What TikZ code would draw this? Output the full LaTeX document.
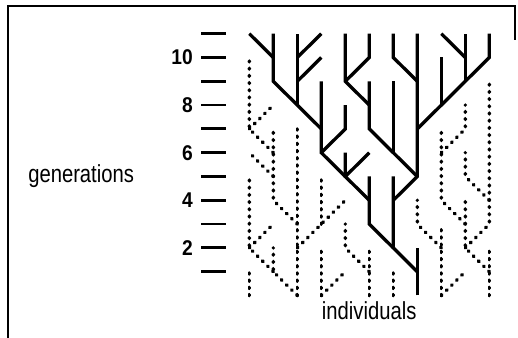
\documentclass[tikz,border=0pt]{standalone}
\usepackage{fontspec}
\setmainfont{Liberation Sans}
\usepackage{graphicx}

\begin{document}
\begin{tikzpicture}[x=0.75pt,y=-0.75pt,
lineage/.style={line width=2.5pt},
lost/.style={line width=2.7pt,line cap=round,dash pattern=on 0.6pt off 4.8pt},
gentick/.style={line width=2.1pt},
frame/.style={line width=1.5pt},
digit/.style={inner sep=0pt,anchor=east,font=\fontsize{16}{18}\selectfont\bfseries},
caption/.style={inner sep=0pt,anchor=base west,font=\fontsize{18.5}{20}\selectfont}
]
\useasboundingbox (0,0) rectangle (518,338);

% frame
\draw[frame] (8.3,338) -- (8.3,6) -- (515,6) -- (515,40);

% individuals: column c, generation g
\foreach \c in {0,...,10}
  \foreach \g in {0,...,11}
    \coordinate (p\c-\g) at ({249.3+24*\c},{295.5-23.8*\g});

% generation scale
\foreach \g in {1,...,11}
  \draw[gentick] (201,{295.5-23.8*\g}) -- +(25,0);
\foreach \g in {2,4,...,10}
  \node[digit] (gen\g) at (193,{295.5-23.8*\g}) {\scalebox{0.9}[1]{\g}};

\node[caption] (gens) at (28,182.7) {\scalebox{0.82}[1]{generations}};
\node[caption] (indiv) at (321.7,320) {\scalebox{0.82}[1]{individuals}};

% descendants of one ancestor
\draw[lineage] (p7-0) -- (p7-1) -- (p7-2);
\draw[lineage] (p7-1) -- (p6-2) -- (p6-5);
\draw[lineage] (p6-2) -- (p5-3) -- (p5-5);
\draw[lineage] (p5-4) -- (p4-5) -- (p4-6);
\draw[lineage] (p4-5) -- (p3-6) -- (p3-9);
\draw[lineage] (p4-5) -- (p5-6);
\draw[lineage] (p6-4) -- (p7-5) -- (p7-11);
\draw[lineage] (p7-5) -- (p6-6) -- (p5-7) -- (p5-9);
\draw[lineage] (p6-6) -- (p6-9);
\draw[lineage] (p3-6) -- (p4-7) -- (p4-8);
\draw[lineage] (p3-7) -- (p2-8) -- (p1-9) -- (p1-11);
\draw[lineage] (p1-10) -- (p0-11);
\draw[lineage] (p2-8) -- (p2-11);
\draw[lineage] (p2-9) -- (p3-10);
\draw[lineage] (p2-10) -- (p3-11);
\draw[lineage] (p5-8) -- (p4-9) -- (p4-11);
\draw[lineage] (p4-9) -- (p5-10) -- (p5-11);
\draw[lineage] (p7-9) -- (p6-10) -- (p6-11);
\draw[lineage] (p7-7) -- (p10-10) -- (p10-11);
\draw[lineage] (p8-8) -- (p8-10);
\draw[lineage] (p9-9) -- (p9-11);
\draw[lineage] (p9-10) -- (p8-11);

% lineages that die out
\draw[lost] (p2-0) -- (p2-7);
\draw[lost] (p2-0) -- (p1-1) -- (p1-2);
\draw[lost] (p1-1) -- (p0-2) -- (p0-5);
\draw[lost] (p0-2) -- (p1-3);
\draw[lost] (p2-3) -- (p1-4) -- (p1-7);
\draw[lost] (p1-5) -- (p0-6);
\draw[lost] (p1-6) -- (p0-7) -- (p0-10);
\draw[lost] (p0-7) -- (p1-8);
\draw[lost] (p2-2) -- (p3-3) -- (p4-4);
\draw[lost] (p3-3) -- (p3-5);
\draw[lost] (p0-0) -- (p0-1);
\draw[lost] (p3-0) -- (p3-2);
\draw[lost] (p3-0) -- (p4-1);
\draw[lost] (p5-0) -- (p5-2);
\draw[lost] (p5-1) -- (p4-2) -- (p4-3);
\draw[lost] (p6-0) -- (p6-1);
\draw[lost] (p8-0) -- (p8-3);
\draw[lost] (p8-2) -- (p7-3) -- (p7-4);
\draw[lost] (p8-0) -- (p9-1);
\draw[lost] (p10-0) -- (p10-2);
\draw[lost] (p10-1) -- (p9-2) -- (p9-4);
\draw[lost] (p9-2) -- (p10-3) -- (p10-9);
\draw[lost] (p9-3) -- (p8-4) -- (p8-7);
\draw[lost] (p8-6) -- (p9-7) -- (p9-8);
\draw[lost] (p10-4) -- (p9-5) -- (p9-6);
\end{tikzpicture}
\end{document}
